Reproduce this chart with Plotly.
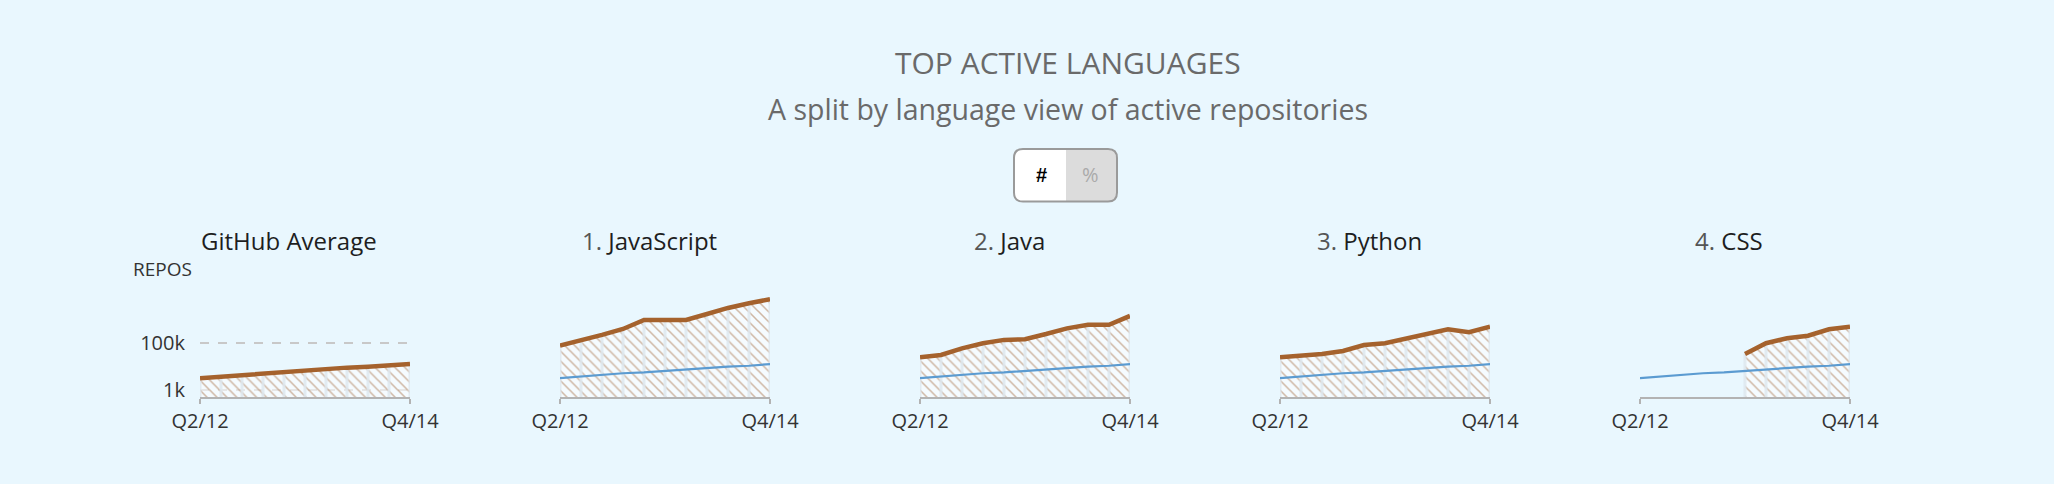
import plotly.graph_objects as go

# ---------------- data ----------------
quarters = ["Q2/12", "Q3/12", "Q4/12", "Q1/13", "Q2/13", "Q3/13",
            "Q4/13", "Q1/14", "Q2/14", "Q3/14", "Q4/14"]

github_avg = [3160, 3720, 4370, 5130, 5620, 6460, 7590, 8910, 9770, 10700, 12600]
javascript = [76700, 125000, 219000, 394000, 955000, 955000, 955000,
              1700000, 3090000, 4900000, 7240000]
java = [24500, 30900, 58900, 97700, 135000, 145000, 240000,
        417000, 589000, 589000, 1410000]
python = [24500, 28800, 33900, 45700, 81300, 97700, 158000,
          240000, 380000, 288000, 490000]
css = [None, None, None, None, None, 33900, 97700, 158000, 204000, 380000, 490000]

panel_names = ["GitHub Average", "JavaScript", "Java", "Python", "CSS"]
panel_ranks = ["", "1.", "2.", "3.", "4."]
panel_series = [github_avg, javascript, java, python, css]

y_ticks = [1000, 100000]
y_tick_text = ["1k", "100k"]
x_tick_text = ["Q2/12", "Q4/14"]

# ---------------- styling ----------------
W, H = 2054, 484
BG = "#e9f7fe"
BROWN = "#a5622d"
BLUE = "#5b9bd1"
HATCH = "#a8714a"
STRIPE = "rgba(222,232,238,0.85)"
FONT = "Open Sans"

Y_MIN, Y_MAX = 2.7, 7.2
BASE = 10 ** Y_MIN
plot_bottom_px, plot_top_px = 397, 291.25
plot_lefts = [200, 560, 920, 1280, 1640]
plot_w = 210

fig = go.Figure()

for i, (name, series) in enumerate(zip(panel_names, panel_series)):
    n = i + 1
    xa = "x" if n == 1 else f"x{n}"
    ya = "y" if n == 1 else f"y{n}"
    # hatched area
    fig.add_trace(go.Scatter(
        x=quarters, y=series, xaxis=xa, yaxis=ya, mode="lines",
        line=dict(width=0, color=BROWN), fill="tozeroy",
        fillcolor="rgba(255,255,255,0.55)",
        fillpattern=dict(shape="\\", size=7, solidity=0.22,
                         fgcolor=HATCH, bgcolor="rgba(255,255,255,0.55)"),
        hoverinfo="skip", showlegend=False))
    # light vertical stripes inside the area (one per quarter)
    sx, sy = [], []
    for q, v in zip(quarters, series):
        if v is None:
            continue
        sx += [q, q, None]
        sy += [BASE, v, None]
    fig.add_trace(go.Scatter(
        x=sx, y=sy, xaxis=xa, yaxis=ya, mode="lines",
        line=dict(color=STRIPE, width=3), hoverinfo="skip",
        showlegend=False, connectgaps=False))
    if n > 1:
        fig.add_trace(go.Scatter(
            x=quarters, y=github_avg, xaxis=xa, yaxis=ya, mode="lines",
            line=dict(color=BLUE, width=2.2), hoverinfo="skip",
            showlegend=False, cliponaxis=False))
    # brown line on top
    fig.add_trace(go.Scatter(
        x=quarters, y=series, xaxis=xa, yaxis=ya, mode="lines",
        line=dict(color=BROWN, width=4.5), hoverinfo="skip",
        showlegend=False, cliponaxis=False))

layout = dict(
    width=W, height=H, autosize=False,
    margin=dict(l=0, r=0, t=0, b=0, autoexpand=False),
    paper_bgcolor=BG, plot_bgcolor="rgba(0,0,0,0)",
    font=dict(family=FONT, color="#333"),
)

ydom = [(H - plot_bottom_px) / H, (H - plot_top_px) / H]
for i in range(5):
    n = i + 1
    suffix = "" if n == 1 else str(n)
    x0 = plot_lefts[i] / W
    x1 = (plot_lefts[i] + plot_w) / W
    layout["xaxis" + suffix] = dict(
        domain=[x0, x1], anchor="y" + suffix, type="category",
        categoryorder="array", categoryarray=quarters,
        range=[0, len(quarters) - 1], tickmode="array",
        tickvals=[quarters[0], quarters[-1]], ticktext=x_tick_text,
        showline=True, linecolor="#b3b3b3", linewidth=2,
        ticks="outside", ticklen=5, tickwidth=2, tickcolor="#b3b3b3",
        tickfont=dict(size=20, color="#333", family=FONT),
        showgrid=False, zeroline=False, fixedrange=True, automargin=False)
    yax = dict(
        domain=ydom, anchor="x" + suffix, type="log",
        range=[Y_MIN, Y_MAX], zeroline=False, fixedrange=True,
        showline=False, automargin=False)
    if n == 1:
        yax.update(tickmode="array", tickvals=y_ticks, ticktext=y_tick_text,
                   showgrid=True, gridcolor="#c8c8c8", griddash="dash",
                   gridwidth=1.5, ticks="", ticklabelstandoff=14,
                   tickfont=dict(size=20, color="#333", family=FONT),
                   layer="below traces")
    else:
        yax.update(showgrid=False, showticklabels=False, ticks="")
    layout["yaxis" + suffix] = yax


def note(text, xpx, ypx, size, color, family=FONT, xanchor="center"):
    return dict(text=text, x=xpx / W, y=(H - ypx) / H, xref="paper",
                yref="paper", showarrow=False, xanchor=xanchor,
                yanchor="middle", font=dict(size=size, color=color, family=family))


annotations = [
    note("TOP ACTIVE LANGUAGES", 1068, 63, 30, "#6a6a6a"),
    note("A split by language view of active repositories", 1068, 109, 28.5, "#6a6a6a"),
    note("<b>#</b>", 1041.7, 175, 20, "#000", family="Arial"),
    note("%", 1090.7, 175, 20, "#aaa"),
    note("REPOS", 131, 269, 19, "#333", xanchor="left"),
]
for i, (name, rank) in enumerate(zip(panel_names, panel_ranks)):
    cx = plot_lefts[i] + plot_w / 2 - 16
    txt = (f"<span style='color:#555'>{rank} </span>" if rank else "") + name
    annotations.append(note(txt, cx, 240, 24, "#1e1e1e"))
layout["annotations"] = annotations


# toggle button (rounded rectangle split in two)
def rounded(x0, y0, x1, y1, r, left=True, right=True):
    rx, ry = r / W, r / H
    X0, X1 = x0 / W, x1 / W
    Yt, Yb = (H - y0) / H, (H - y1) / H
    p = f"M{X0 + rx},{Yt} " if left else f"M{X0},{Yt} "
    if right:
        p += f"L{X1 - rx},{Yt} Q{X1},{Yt} {X1},{Yt - ry} L{X1},{Yb + ry} Q{X1},{Yb} {X1 - rx},{Yb} "
    else:
        p += f"L{X1},{Yt} L{X1},{Yb} "
    if left:
        p += f"L{X0 + rx},{Yb} Q{X0},{Yb} {X0},{Yb + ry} L{X0},{Yt - ry} Q{X0},{Yt} {X0 + rx},{Yt} Z"
    else:
        p += f"L{X0},{Yb} Z"
    return p


bx0, by0, bx1, by1, bmid = 1014, 149, 1117, 201.5, 1066
layout["shapes"] = [
    dict(type="path", xref="paper", yref="paper",
         path=rounded(bx0, by0, bx1, by1, 9), fillcolor="#dcdcdc",
         line=dict(width=0), layer="above"),
    dict(type="path", xref="paper", yref="paper",
         path=rounded(bx0, by0, bmid, by1, 9, left=True, right=False),
         fillcolor="#ffffff", line=dict(width=0), layer="above"),
    dict(type="path", xref="paper", yref="paper",
         path=rounded(bx0, by0, bx1, by1, 9), fillcolor="rgba(0,0,0,0)",
         line=dict(color="#9a9a9a", width=2), layer="above"),
]

fig.update_layout(**layout)
fig.write_html("out.html", config={"displayModeBar": False},
               post_script="document.body.style.margin='0';document.body.style.overflow='hidden';")
